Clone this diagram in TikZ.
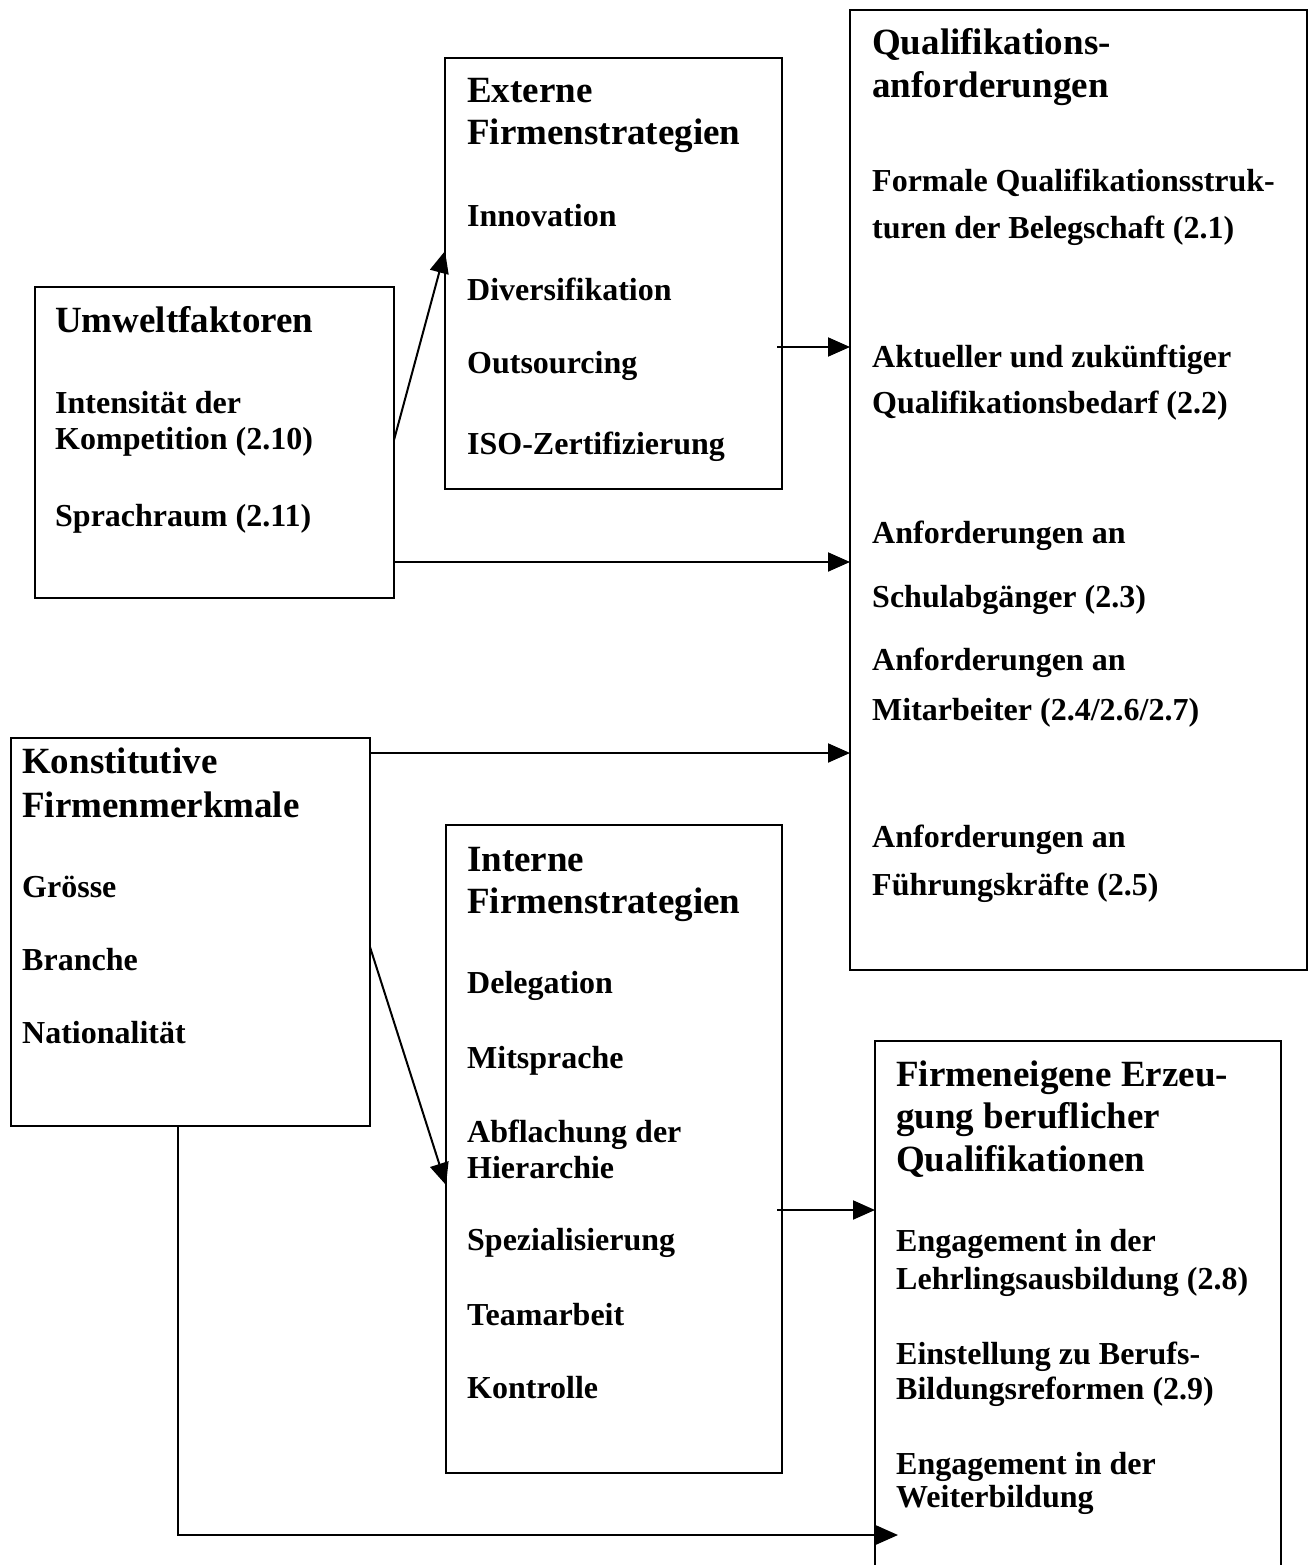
\documentclass[tikz,border=0pt]{standalone}
\usepackage{fontspec}
\setmainfont{Liberation Serif}
\usetikzlibrary{arrows.meta}
\begin{document}
\begin{tikzpicture}[x=1pt,y=-1pt,
  box/.style={draw, line width=2pt, inner sep=0pt, outer sep=0pt},
  hd/.style={anchor=base west, inner sep=0pt, font=\fontsize{37}{42}\selectfont\bfseries},
  tx/.style={anchor=base west, inner sep=0pt, font=\fontsize{32}{37}\selectfont\bfseries},
  arr/.style={line width=2pt, -{Triangle[length=22pt,width=19pt]}}]
\useasboundingbox (0,0) rectangle (1311,1565);
\fill[white] (0,0) rectangle (1311,1565);

% boxes
\node[box, minimum width=359pt, minimum height=311pt] (ume) at (214.5,442.5) {};
\node[box, minimum width=337pt, minimum height=431pt] (ext) at (613.5,273.5) {};
\node[box, minimum width=457pt, minimum height=960pt] (qual) at (1078.5,490) {};
\node[box, minimum width=359pt, minimum height=388pt] (kon) at (190.5,932) {};
\node[box, minimum width=336pt, minimum height=648pt] (int) at (614,1149) {};
\node[box, minimum width=406pt, minimum height=559pt] (firm) at (1078,1320.5) {};

% Umweltfaktoren
\node[hd] (ume-h) at (55,332) {Umweltfaktoren};
\node[tx] (ume-1) at (55,413) {Intensität der};
\node[tx] (ume-2) at (55,449) {Kompetition (2.10)};
\node[tx] (ume-3) at (55,526) {Sprachraum (2.11)};

% Externe
\node[hd] (ext-h1) at (467,103) {Externe};
\node[hd] (ext-h2) at (467,145) {Firmenstrategien};
\node[tx] (ext-1) at (467,226) {Innovation};
\node[tx] (ext-2) at (467,300) {Diversifikation};
\node[tx] (ext-3) at (467,373) {Outsourcing};
\node[tx] (ext-4) at (467,454) {ISO-Zertifizierung};

% Qualifikationsanforderungen
\node[hd] (q-h1) at (872,55) {Qualifikations-};
\node[hd] (q-h2) at (872,98) {anforderungen};
\node[tx] (q-1) at (872,192) {Formale Qualifikationsstruk-};
\node[tx] (q-2) at (872,238) {turen der Belegschaft (2.1)};
\node[tx] (q-3) at (872,367) {Aktueller und zukünftiger};
\node[tx] (q-4) at (872,413) {Qualifikationsbedarf (2.2)};
\node[tx] (q-5) at (872,543) {Anforderungen an};
\node[tx] (q-6) at (872,607) {Schulabgänger (2.3)};
\node[tx] (q-7) at (872,670) {Anforderungen an};
\node[tx] (q-8) at (872,720) {Mitarbeiter (2.4/2.6/2.7)};
\node[tx] (q-9) at (872,847) {Anforderungen an};
\node[tx] (q-10) at (872,895) {Führungskräfte (2.5)};

% Konstitutive
\node[hd] (k-h1) at (22,773) {Konstitutive};
\node[hd] (k-h2) at (22,817) {Firmenmerkmale};
\node[tx] (k-1) at (22,897) {Grösse};
\node[tx] (k-2) at (22,970) {Branche};
\node[tx] (k-3) at (22,1043) {Nationalität};

% Interne
\node[hd] (i-h1) at (467,871) {Interne};
\node[hd] (i-h2) at (467,913) {Firmenstrategien};
\node[tx] (i-1) at (467,993) {Delegation};
\node[tx] (i-2) at (467,1068) {Mitsprache};
\node[tx] (i-3) at (467,1142) {Abflachung der};
\node[tx] (i-4) at (467,1178) {Hierarchie};
\node[tx] (i-5) at (467,1250) {Spezialisierung};
\node[tx] (i-6) at (467,1325) {Teamarbeit};
\node[tx] (i-7) at (467,1398) {Kontrolle};

% Firmeneigene
\node[hd] (f-h1) at (896,1086) {Firmeneigene Erzeu-};
\node[hd] (f-h2) at (896,1128) {gung beruflicher};
\node[hd] (f-h3) at (896,1171) {Qualifikationen};
\node[tx] (f-1) at (896,1251) {Engagement in der};
\node[tx] (f-2) at (896,1289) {Lehrlingsausbildung (2.8)};
\node[tx] (f-3) at (896,1364) {Einstellung zu Berufs-};
\node[tx] (f-4) at (896,1399) {Bildungsreformen (2.9)};
\node[tx] (f-5) at (896,1474) {Engagement in der};
\node[tx] (f-6) at (896,1507) {Weiterbildung};

% connectors
\coordinate (e2) at ([xshift=-5pt]ext.east);
\coordinate (i2) at ([xshift=-5pt]int.east);
\coordinate (ftip) at ([xshift=23pt]firm.west);
\coordinate (kdown) at (178,0 |- kon.south);
\coordinate (kcorner) at (178,1535);

\draw[arr] (ume.east |- 0,440) -- (ext.west |- 0,251);
\draw[arr] (e2 |- 0,347) -- (qual.west |- 0,347);
\draw[arr] (ume.east |- 0,562) -- (qual.west |- 0,562);
\draw[arr] (kon.east |- 0,753) -- (qual.west |- 0,753);
\draw[arr] (kon.east |- 0,947) -- (int.west |- 0,1185);
\draw[arr] (i2 |- 0,1210) -- (firm.west |- 0,1210);
\draw[arr] (kdown) -- (kcorner) -- (ftip |- kcorner);
\end{tikzpicture}
\end{document}
